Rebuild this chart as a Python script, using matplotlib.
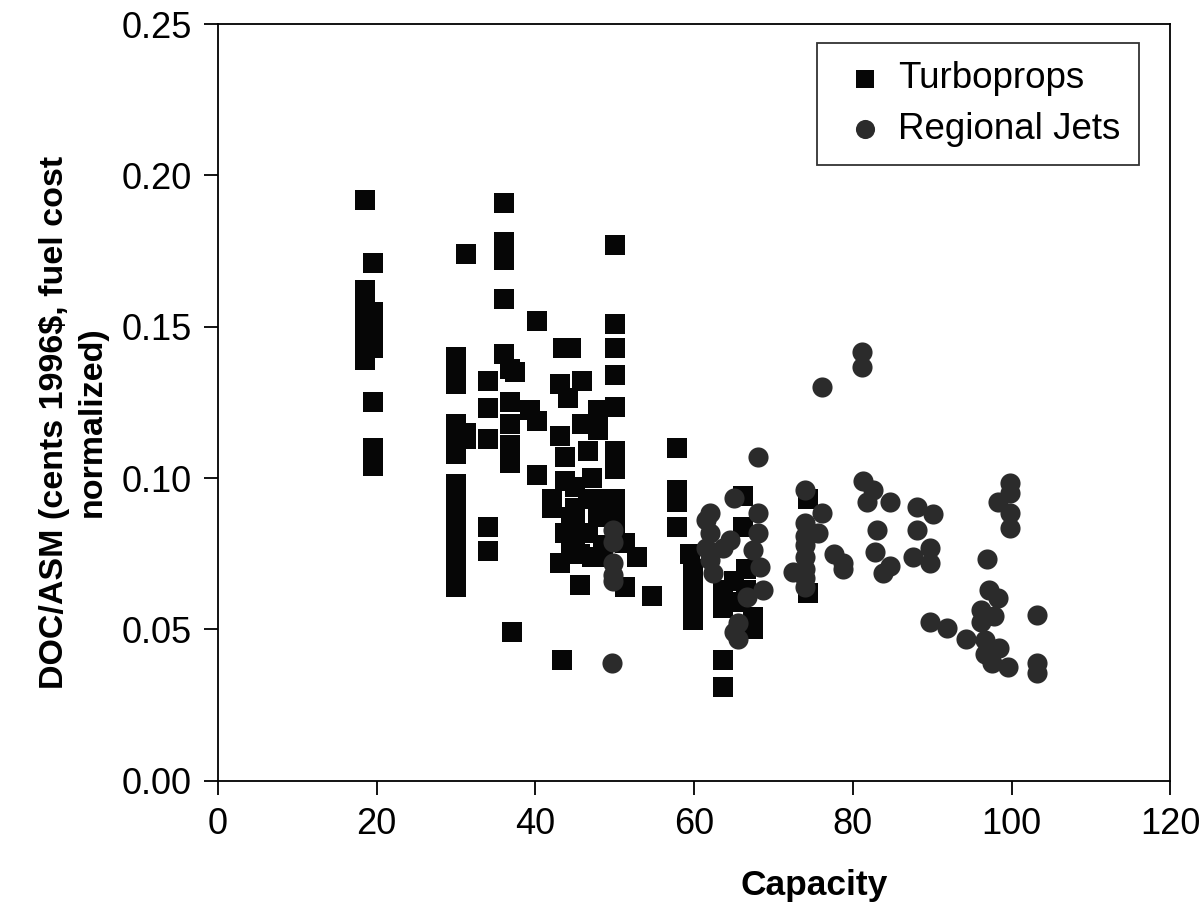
import matplotlib
matplotlib.use("Agg")
import matplotlib.pyplot as plt
import numpy as np
from matplotlib.ticker import FormatStrFormatter

plt.rcParams['font.family'] = ['Liberation Sans', 'DejaVu Sans']

# Turboprops: capacity (seats) and DOC/ASM
tp_x = [18.5, 18.5, 18.5, 18.5, 18.5, 18.5, 18.5, 18.5,
        19.5, 19.5, 19.5, 19.5, 19.5, 19.5, 19.5, 19.5,
        30, 30, 30, 30, 30, 30, 30, 30, 30, 30, 30, 30, 30, 30,
        31.3, 31.3, 31.3,
        34, 34, 34, 34, 34,
        36, 36, 36, 36, 36,
        36.8, 36.8, 36.8, 36.8, 36.8, 37, 37.4,
        39.3, 40.2, 40.2, 40.2,
        42.1, 42.1, 43.1, 43.1, 43.1, 43.7, 43.7, 43.7, 43.4,
        43.5, 44.5, 44.1, 45.9, 45.9, 45.6, 45.6,
        46.6, 46.6, 46.6, 47.1, 47.1, 47.9, 47.9, 47.9, 47.9,
        45, 45, 45, 45, 44.5, 44.5,
        50, 50, 50, 50, 50, 50, 50, 50, 50, 50,
        48.5, 48.5, 51.3, 51.3, 52.8, 54.7,
        57.9, 57.9, 57.9, 57.9, 59.5, 59.9, 59.9, 59.9, 59.9, 59.9,
        63.7, 63.7, 63.7, 63.7, 65, 65, 66.2, 66.2, 67.4, 67.4, 66.5, 66.5,
        74.3, 74.3]
tp_y = [0.192, 0.162, 0.158, 0.154, 0.150, 0.146, 0.142, 0.139,
        0.171, 0.155, 0.151, 0.147, 0.143, 0.125, 0.110, 0.104,
        0.140, 0.136, 0.131, 0.118, 0.113, 0.108, 0.098, 0.092, 0.087, 0.082, 0.077, 0.072, 0.068, 0.064,
        0.174, 0.115, 0.113,
        0.132, 0.123, 0.113, 0.084, 0.076,
        0.191, 0.178, 0.172, 0.159, 0.141,
        0.136, 0.125, 0.118, 0.111, 0.105, 0.049, 0.135,
        0.1225, 0.152, 0.119, 0.101,
        0.093, 0.090, 0.131, 0.114, 0.072, 0.107, 0.099, 0.082, 0.040,
        0.143, 0.143, 0.1265, 0.132, 0.118, 0.0647, 0.075,
        0.109, 0.082, 0.093, 0.100, 0.074, 0.1225, 0.116, 0.093, 0.087,
        0.090, 0.086, 0.080, 0.097, 0.087, 0.078,
        0.177, 0.151, 0.143, 0.134, 0.1235, 0.109, 0.103, 0.093, 0.088, 0.082,
        0.078, 0.074, 0.0786, 0.064, 0.074, 0.061,
        0.110, 0.096, 0.092, 0.084, 0.075, 0.070, 0.065, 0.060, 0.056, 0.053,
        0.063, 0.057, 0.040, 0.031, 0.066, 0.059, 0.094, 0.084, 0.054, 0.050, 0.070, 0.063,
        0.093, 0.062]

# Regional jets
rj_x = [49.6, 49.8, 49.8, 49.8, 49.8, 49.8,
        62.0, 62.0, 62.0, 62.4, 61.5, 61.5, 63.7, 64.5,
        65.0, 65.0, 66.7, 68.0, 68.0, 68.0, 67.4, 68.3, 68.7, 65.5, 65.5,
        74, 74, 74, 74, 74, 74, 74, 74, 72.5,
        76.1, 76.1, 75.6, 77.6, 78.8, 78.8,
        81.2, 81.2, 81.3, 82.6, 81.8, 84.7, 83.1, 82.8, 83.8, 84.7,
        88.1, 88.1, 90.1, 89.7, 89.7, 87.6,
        89.7, 91.9, 94.2,
        96.9, 97.1, 98.3, 96.2, 96.2, 97.8, 96.6, 96.6, 97.5, 98.4, 99.5,
        99.8, 99.8, 99.8, 99.8, 98.3,
        103.2, 103.2, 103.2]
rj_y = [0.039, 0.083, 0.079, 0.072, 0.068, 0.066,
        0.0885, 0.082, 0.073, 0.0687, 0.086, 0.077, 0.077, 0.0796,
        0.0935, 0.049, 0.0608, 0.0885, 0.082, 0.107, 0.0763, 0.0707, 0.063, 0.052, 0.047,
        0.096, 0.085, 0.081, 0.078, 0.074, 0.070, 0.067, 0.064, 0.069,
        0.130, 0.0885, 0.082, 0.075, 0.072, 0.070,
        0.1417, 0.1367, 0.099, 0.096, 0.092, 0.092, 0.083, 0.0757, 0.0687, 0.071,
        0.0905, 0.083, 0.088, 0.077, 0.072, 0.074,
        0.0525, 0.0505, 0.047,
        0.0733, 0.063, 0.0604, 0.0564, 0.0525, 0.0545, 0.0465, 0.042, 0.039, 0.044, 0.0377,
        0.0984, 0.095, 0.0885, 0.0836, 0.092,
        0.0548, 0.039, 0.0356]

fig = plt.figure(figsize=(12.04, 9.24), dpi=100)
ax = fig.add_axes([0.181, 0.155, 0.791, 0.819])

ax.scatter(tp_x, tp_y, marker='s', s=190, color='#060606', linewidths=0, label='Turboprops')
ax.scatter(rj_x, rj_y, marker='o', s=210, color='#2b2b2b', linewidths=0, label='Regional Jets')

ax.set_xlim(0, 120)
ax.set_ylim(0, 0.25)
ax.set_xticks(np.arange(0, 121, 20))
ax.set_yticks(np.arange(0, 0.251, 0.05))
ax.yaxis.set_major_formatter(FormatStrFormatter('%.2f'))
ax.tick_params(direction='out', length=10, width=1.3, labelsize=26, pad=9)
for sp in ax.spines.values():
    sp.set_linewidth(1.3)

ax.set_xlabel('Capacity', fontsize=25.5, fontweight='bold')
ax.xaxis.set_label_coords(0.626, -0.117)
ax.set_ylabel('DOC/ASM (cents 1996$, fuel cost\nnormalized)', fontsize=24.5,
              fontweight='bold', linespacing=1.25)
ax.yaxis.set_label_coords(-0.116, 0.474)

leg = ax.legend(loc='upper left', bbox_to_anchor=(0.629, 0.975), borderaxespad=0,
                fontsize=26.5, frameon=True, fancybox=False, markerscale=0.95,
                handletextpad=0.1, handlelength=1.6, labelspacing=0.42,
                borderpad=0.5)
leg.get_frame().set_edgecolor('black')
leg.get_frame().set_linewidth(1.3)

fig.savefig('out.png', dpi=100)
